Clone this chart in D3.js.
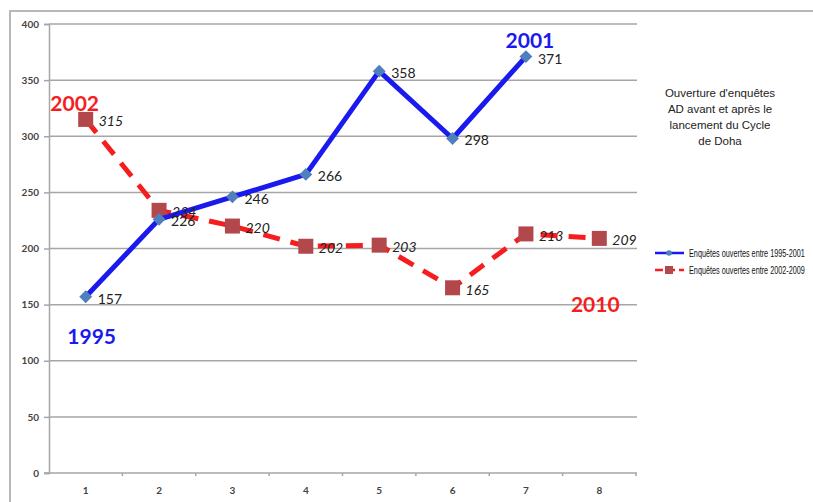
<!DOCTYPE html>
<html>
<head>
<meta charset="utf-8">
<script src="https://cdn.jsdelivr.net/npm/d3@7"></script>
<style>
  body { margin: 0; background: #fff; }
  svg { display: block; }
</style>
</head>
<body>
<svg id="chart" width="813" height="502"></svg>
<script>
// data
const categories = ['1', '2', '3', '4', '5', '6', '7', '8'];
const before = [157, 226, 246, 266, 358, 298, 371];        // 1995-2001
const after = [315, 234, 220, 202, 203, 165, 213, 209];    // 2002-2009(10)
const yTicks = [0, 50, 100, 150, 200, 250, 300, 350, 400];
const seriesNames = ['Enquêtes ouvertes entre 1995-2001', 'Enquêtes ouvertes entre 2002-2009'];
const titleLines = ["Ouverture d'enquêtes", 'AD avant et après le', 'lancement du Cycle', 'de Doha'];

const svg = d3.select('#chart');
const blue = '#1a1aef', red = '#f51d1d';
const grid = '#a6a6a6';

// outer frame
svg.append('path')
  .attr('d', 'M10,502V11H813')
  .attr('fill', 'none')
  .attr('stroke', '#b8b8b8')
  .attr('stroke-width', 2);

const x = d3.scaleBand().domain(categories).range([49, 636]);
const y = d3.scaleLinear().domain([0, 400]).range([473, 24]);
const cx = i => x(categories[i]) + x.bandwidth() / 2;

// gridlines
svg.append('g')
  .selectAll('line')
  .data(yTicks.filter(d => d > 0))
  .join('line')
  .attr('x1', 49).attr('x2', 637)
  .attr('y1', d => y(d)).attr('y2', d => y(d))
  .attr('stroke', grid).attr('stroke-width', 1.5);

// y axis
const yAxis = svg.append('g')
  .attr('transform', 'translate(49,0)')
  .call(d3.axisLeft(y).tickValues(yTicks).tickSize(5).tickPadding(5));
yAxis.select('.domain').attr('stroke', grid).attr('stroke-width', 1.5);
yAxis.selectAll('.tick line').attr('stroke', grid).attr('stroke-width', 1.5);
yAxis.selectAll('text')
  .attr('font-family', 'Lato, sans-serif')
  .attr('font-weight', 'bold')
  .attr('font-size', 10)
  .attr('fill', '#444');

// x axis (ticks between categories)
const xAxis = svg.append('g').attr('transform', 'translate(0,473)');
xAxis.append('line')
  .attr('x1', 44).attr('x2', 637)
  .attr('stroke', grid).attr('stroke-width', 1.5);
xAxis.selectAll('line.tk')
  .data(categories)
  .join('line')
  .attr('class', 'tk')
  .attr('x1', d => x(d) + x.bandwidth()).attr('x2', d => x(d) + x.bandwidth())
  .attr('y1', 0).attr('y2', 3)
  .attr('stroke', grid).attr('stroke-width', 1.5);
xAxis.selectAll('text')
  .data(categories)
  .join('text')
  .attr('x', d => x(d) + x.bandwidth() / 2)
  .attr('y', 21)
  .attr('text-anchor', 'middle')
  .attr('font-family', 'Lato, sans-serif')
  .attr('font-weight', 'bold')
  .attr('font-size', 10)
  .attr('fill', '#444')
  .text(d => d);

const line = d3.line().x((d, i) => cx(i)).y(d => y(d));

// red dashed series
svg.append('path')
  .datum(after)
  .attr('d', line)
  .attr('fill', 'none')
  .attr('stroke', red)
  .attr('stroke-width', 5)
  .attr('stroke-dasharray', '17,11');
svg.append('g')
  .selectAll('rect')
  .data(after)
  .join('rect')
  .attr('x', (d, i) => cx(i) - 7.5)
  .attr('y', d => y(d) - 7.5)
  .attr('width', 15).attr('height', 15)
  .attr('fill', '#b3484c');

// blue series
svg.append('path')
  .datum(before)
  .attr('d', line)
  .attr('fill', 'none')
  .attr('stroke', blue)
  .attr('stroke-width', 5)
  .attr('stroke-linejoin', 'round');
svg.append('g')
  .selectAll('path')
  .data(before)
  .join('path')
  .attr('d', d3.symbol(d3.symbolDiamond2, 105))
  .attr('transform', (d, i) => `translate(${cx(i)},${y(d)})`)
  .attr('fill', '#4f7fbd');

// value labels
svg.append('g')
  .selectAll('text')
  .data(after)
  .join('text')
  .attr('x', (d, i) => cx(i) + 13)
  .attr('y', d => y(d) + 7)
  .attr('font-family', 'Lato, sans-serif')
  .attr('font-style', 'italic')
  .attr('font-size', 14)
  .attr('fill', '#222')
  .text(d => d);
svg.append('g')
  .selectAll('text')
  .data(before)
  .join('text')
  .attr('x', (d, i) => cx(i) + 12)
  .attr('y', d => y(d) + 7)
  .attr('font-family', 'Lato, sans-serif')
  .attr('font-size', 14)
  .attr('fill', '#222')
  .text(d => d);

// year annotations
const years = [
  { t: '2002', c: red, i: 0, v: after[0], dx: -11, dy: -8 },
  { t: '1995', c: blue, i: 0, v: before[0], dx: 6, dy: 47 },
  { t: '2001', c: blue, i: 6, v: before[6], dx: 4, dy: -9 },
  { t: '2010', c: red, i: 7, v: after[7], dx: -4, dy: 74 }
];
svg.append('g')
  .selectAll('text')
  .data(years)
  .join('text')
  .attr('x', d => cx(d.i) + d.dx)
  .attr('y', d => y(d.v) + d.dy)
  .attr('text-anchor', 'middle')
  .attr('font-family', 'Lato, sans-serif')
  .attr('font-weight', 'bold')
  .attr('font-size', 21)
  .attr('fill', d => d.c)
  .text(d => d.t);

// title block
svg.append('g')
  .selectAll('text')
  .data(titleLines)
  .join('text')
  .attr('x', 720)
  .attr('y', (d, i) => 97 + i * 16)
  .attr('text-anchor', 'middle')
  .attr('font-family', '"Liberation Sans", Arial, sans-serif')
  .attr('font-size', 11.5)
  .attr('fill', '#222')
  .text(d => d);

// legend
const lg = svg.append('g');
lg.append('line').attr('x1', 655).attr('x2', 684).attr('y1', 253).attr('y2', 253)
  .attr('stroke', blue).attr('stroke-width', 2.5);
lg.append('circle').attr('cx', 669).attr('cy', 253).attr('r', 2.8).attr('fill', '#4f7fbd');
lg.append('line').attr('x1', 655).attr('x2', 684).attr('y1', 270).attr('y2', 270)
  .attr('stroke', red).attr('stroke-width', 2.5).attr('stroke-dasharray', '8,4');
lg.append('rect').attr('x', 665).attr('y', 266).attr('width', 8).attr('height', 8).attr('fill', '#b3484c');
// condensed look: squeeze the text horizontally to the width seen in the picture
lg.selectAll('g.item')
  .data(seriesNames)
  .join('g')
  .attr('class', 'item')
  .each(function(d, i) {
    const g = d3.select(this);
    const t = g.append('text')
      .attr('x', 0).attr('y', 0)
      .attr('font-family', '"Liberation Sans Narrow", "Liberation Sans", sans-serif')
      .attr('font-size', 10)
      .attr('fill', '#111')
      .text(d);
    const w = t.node().getComputedTextLength();
    g.attr('transform', `translate(689,${257 + i * 17}) scale(${116 / w},1)`);
  });
</script>
</body>
</html>
